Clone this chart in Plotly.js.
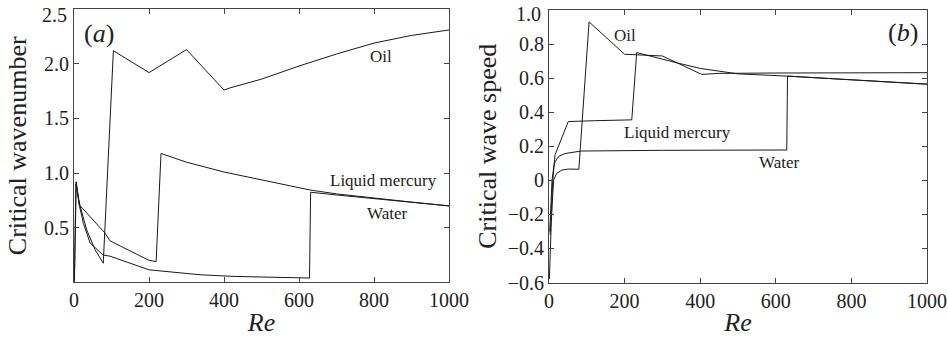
<!DOCTYPE html>
<html>
<head>
<meta charset="utf-8">
<script src="https://cdn.plot.ly/plotly-3.0.1.min.js"></script>
<style>
  html, body { margin: 0; padding: 0; background: #fff; }
  #chart { width: 948px; height: 337px; }
</style>
</head>
<body>
<div id="chart"></div>
<script>
// (a) critical wavenumber against Reynolds number
const oilA_re   = [1, 5, 16, 34, 56, 78, 105, 200, 300, 400, 416, 500, 600, 700, 800, 900, 1000];
const oilA_k    = [0.02, 0.90, 0.70, 0.48, 0.30, 0.175, 2.12, 1.92, 2.13, 1.76, 1.78, 1.86, 1.98, 2.09, 2.19, 2.26, 2.31];
const mercA_re  = [5, 14, 83, 96, 198, 219, 232, 300, 400, 500, 550, 630, 700, 800, 900, 1000];
const mercA_k   = [0.92, 0.71, 0.45, 0.38, 0.205, 0.19, 1.18, 1.10, 1.01, 0.94, 0.905, 0.845, 0.81, 0.77, 0.735, 0.70];
const waterA_re = [1, 6, 14, 25, 43, 78, 96, 200, 336, 424, 628, 631, 700, 800, 900, 1000];
const waterA_k  = [0.0, 0.92, 0.71, 0.54, 0.36, 0.25, 0.24, 0.115, 0.07, 0.055, 0.04, 0.825, 0.80, 0.765, 0.73, 0.70];

// (b) critical wave speed against Reynolds number
const oilB_re   = [1, 6, 12, 20, 34, 51, 79, 106, 200, 300, 404, 450, 600, 800, 1000];
const oilB_c    = [-0.58, -0.25, 0.0, 0.04, 0.06, 0.066, 0.065, 0.93, 0.74, 0.73, 0.622, 0.628, 0.63, 0.63, 0.632];
const mercB_re  = [3, 10, 16, 23, 51, 120, 219, 232, 300, 338, 400, 452, 500, 629, 800, 1000];
const mercB_c   = [-0.32, 0.0, 0.15, 0.19, 0.345, 0.35, 0.355, 0.75, 0.71, 0.69, 0.657, 0.641, 0.625, 0.612, 0.59, 0.565];
const waterB_re = [2, 8, 14, 25, 42, 78, 85, 300, 629, 631, 800, 1000];
const waterB_c  = [-0.30, 0.0, 0.10, 0.14, 0.157, 0.167, 0.172, 0.176, 0.178, 0.612, 0.588, 0.564];

// tick positions and labels (the topmost label of each panel is set a little lower, as text)
const reTicks   = [0, 200, 400, 600, 800, 1000];
const kTicks    = [0.5, 1.0, 1.5, 2.0, 2.5];
const kLabels   = ['0.5', '1.0', '1.5', '2.0', ''];
const kTopLabel = '2.5';
const cTicks    = [-0.6, -0.4, -0.2, 0, 0.2, 0.4, 0.6, 0.8, 1.0];
const cLabels   = ['\u22120.6', '\u22120.4', '\u22120.2', '0', '0.2', '0.4', '0.6', '0.8', ''];
const cTopLabel = '1.0';

const SERIF = "'Liberation Serif', 'Times New Roman', Times, serif";
const INK = '#222';
const lineStyle = { color: '#1a1a1a', width: 1 };
const W = 948, H = 337;

function curve(x, y, name, xa, ya) {
  return { x: x, y: y, name: name, type: 'scatter', mode: 'lines',
           line: lineStyle, xaxis: xa, yaxis: ya, hoverinfo: 'skip' };
}

const traces = [
  curve(oilA_re, oilA_k, 'Oil', 'x', 'y'),
  curve(mercA_re, mercA_k, 'Liquid mercury', 'x', 'y'),
  curve(waterA_re, waterA_k, 'Water', 'x', 'y'),
  curve(oilB_re, oilB_c, 'Oil', 'x2', 'y2'),
  curve(mercB_re, mercB_c, 'Liquid mercury', 'x2', 'y2'),
  curve(waterB_re, waterB_c, 'Water', 'x2', 'y2')
];

const axisBase = {
  showgrid: false, zeroline: false, showline: true, mirror: 'ticks',
  linecolor: '#444', linewidth: 1, ticks: 'inside', ticklen: 5,
  tickcolor: '#444', tickwidth: 1, automargin: false,
  ticklabeloverflow: 'allow',
  tickfont: { family: SERIF, size: 20, color: INK }
};

function xAxis(domain, anchor) {
  return Object.assign({}, axisBase, {
    domain: domain, anchor: anchor, range: [0, 1000],
    tickmode: 'array', tickvals: reTicks, ticktext: reTicks.map(String),
    title: { text: '<i>Re</i>', font: { family: SERIF, size: 26, color: INK }, standoff: 6 }
  });
}

function note(text, x, y, xa, ya, size) {
  return { text: text, x: x, y: y, xref: xa, yref: ya, showarrow: false,
           font: { family: SERIF, size: size, color: INK } };
}

function topTick(text, px, py) {
  return { text: text, x: px / W, y: 1 - py / H, xref: 'paper', yref: 'paper',
           xanchor: 'right', yanchor: 'middle', showarrow: false,
           font: { family: SERIF, size: 20, color: INK } };
}

const layout = {
  width: W, height: H,
  margin: { l: 0, r: 0, t: 0, b: 0 },
  paper_bgcolor: '#fff', plot_bgcolor: '#fff',
  showlegend: false,
  xaxis: xAxis([74 / W, 449 / W], 'y'),
  xaxis2: xAxis([549 / W, 927 / W], 'y2'),
  yaxis: Object.assign({}, axisBase, {
    domain: [54.6 / H, 327.8 / H], anchor: 'x', range: [0, 2.5],
    tickmode: 'array', tickvals: kTicks, ticktext: kLabels,
    title: { text: 'Critical wavenumber', font: { family: SERIF, size: 26, color: INK }, standoff: 9 }
  }),
  yaxis2: Object.assign({}, axisBase, {
    domain: [54.5 / H, 327 / H], anchor: 'x2', range: [-0.6, 1.0],
    tickmode: 'array', tickvals: cTicks, ticktext: cLabels,
    title: { text: 'Critical wave speed', font: { family: SERIF, size: 26, color: INK }, standoff: 3 }
  }),
  annotations: [
    topTick(kTopLabel, 69, 15.5),
    topTick(cTopLabel, 543, 14.5),
    note('(<i>a</i>)', 67, 2.28, 'x', 'y', 26),
    note('Oil', 819, 2.07, 'x', 'y', 17),
    note('Liquid mercury', 824, 0.937, 'x', 'y', 17),
    note('Water', 835, 0.635, 'x', 'y', 17),
    note('(<i>b</i>)', 936, 0.865, 'x2', 'y2', 26),
    note('Oil', 201, 0.853, 'x2', 'y2', 17),
    note('Liquid mercury', 340, 0.282, 'x2', 'y2', 17),
    note('Water', 608, 0.106, 'x2', 'y2', 17)
  ]
};

Plotly.newPlot('chart', traces, layout, { staticPlot: true, displayModeBar: false });
</script>
</body>
</html>
